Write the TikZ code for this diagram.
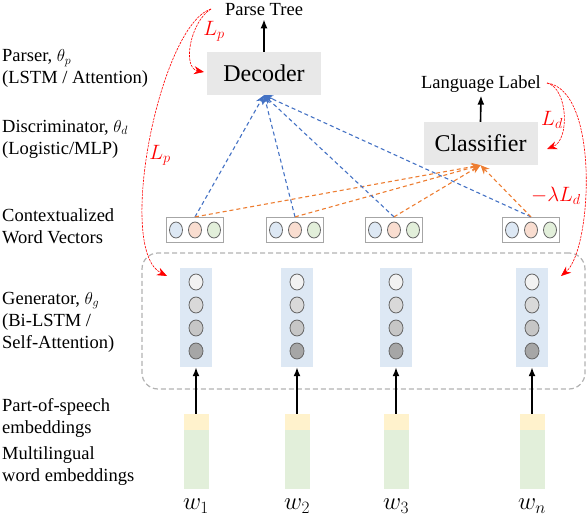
\documentclass[tikz,border=0pt]{standalone}
\usepackage{fontspec}
\setmainfont{Liberation Serif}
\usetikzlibrary{arrows.meta}

\definecolor{attblue}{HTML}{4472C4}
\definecolor{advorange}{HTML}{ED7D31}
\definecolor{cellblue}{HTML}{DDE8F4}
\definecolor{cellred}{HTML}{F9DDD0}
\definecolor{cellgreen}{HTML}{E2EFDA}
\definecolor{posyellow}{HTML}{FFF2CC}
\definecolor{embgreen}{HTML}{E2EFDA}

\tikzset{
    txt/.style={font=\fontsize{18.5}{22}\selectfont, inner sep=0pt},
    side/.style={txt, anchor=west, align=left},
    block/.style={fill=gray!18, minimum width=114pt, minimum height=43pt, font=\rmfamily\fontsize{24}{28}\selectfont},
    vecbox/.style={draw=gray!70, line width=1.2pt, fill=white, minimum width=57pt, minimum height=25pt},
    genbar/.style={fill=cellblue, minimum width=32pt, minimum height=99pt, inner sep=0pt},
    cell/.style={draw=gray!120, line width=0.8pt},
    up/.style={line width=1.6pt, -{Latex[length=9pt,width=7pt]}},
    todec/.style={attblue, line width=1.1pt, dash pattern=on 4pt off 3pt, -{Stealth[length=9pt,width=8pt]}},
    tocls/.style={advorange, line width=1.1pt, dash pattern=on 4pt off 3pt, -{Stealth[length=9pt,width=8pt]}},
    grad/.style={red, line width=0.6pt, dash pattern=on 2.5pt off 1pt, -{Stealth[length=10pt,width=8pt]}},
    loss/.style={red, font=\fontsize{21}{24}\selectfont}
}

\begin{document}
\begin{tikzpicture}[x=1pt,y=-1pt]
        \useasboundingbox (0,0) rectangle (588,518);
        % left column labels
        \node [side] (lparser) at (2,68.5) {Parser, $\theta_p$\\(LSTM / Attention)};
        \node [side] (ldisc) at (2,139) {Discriminator, $\theta_d$\\(Logistic/MLP)};
        \node [side] (lctx) at (2,226) {Contextualized\\Word Vectors};
        \node [side] (lgen) at (2,322) {Generator, $\theta_g$\\(Bi-LSTM /\\Self-Attention)};
        \node [side] (lpos) at (2,417.5) {Part-of-speech\\embeddings};
        \node [side] (lemb) at (2,466) {Multilingual\\word embeddings};
        % parser and classifier
        \node [block] (dec) at (264,73.5) {Decoder};
        \node [block] (cls) at (480.5,143.5) {Classifier};
        \node [txt] (tree) at (264,10) {Parse Tree};
        \node [txt] (lang) at (481,84) {Language Label};
        \draw [up] (dec.north) -- ([yshift=-3pt]tree.south);
        \draw [up] (cls.north) -- ([yshift=-3pt]lang.south);
        % generator frame
        \node [draw=gray!60, line width=1.2pt, dash pattern=on 5pt off 3pt, rounded corners=16pt,
               minimum width=443pt, minimum height=136pt] (gen) at (363.5,321) {};
        % word columns
        \foreach \x/\n/\v in {196/1/195, 297/2/295, 396/3/394, 532/n/531} {
            \node [vecbox] (v\n) at (\v,230) {};
            \filldraw [cell, fill=cellblue] (\v-19,230) ellipse (6.5 and 8);
            \filldraw [cell, fill=cellred] (\v,230) ellipse (6.5 and 8);
            \filldraw [cell, fill=cellgreen] (\v+19,230) ellipse (6.5 and 8);
            \node [genbar] (g\n) at (\x,317.5) {};
            \foreach \y/\c in {282/gray!10, 305/gray!30, 328/gray!45, 351/gray!70}
                \filldraw [cell, fill=\c] (\x,\y) ellipse (7 and 8);
            \node [fill=posyellow, minimum width=25pt, minimum height=16pt, inner sep=0pt] (p\n) at (\x,422) {};
            \node [fill=embgreen, minimum width=25pt, minimum height=59pt, inner sep=0pt, anchor=north] (e\n) at (p\n.south) {};
            \node [font=\fontsize{25}{28}\selectfont] (w\n) at (\x,506) {$w_{\n}$};
            \draw [up] (p\n.north) -- (g\n.south);
        }
        % attention to decoder and classifier
        \foreach \n in {1,2,3,n} {
            \draw [todec] (v\n.north) -- (dec.south);
            \draw [tocls] (v\n.north) -- (cls.south);
        }
        % gradients
        \coordinate (lpstart) at (211,9);
        \coordinate (ldstart) at (547,83);
        \coordinate (dectip) at (204,72);
        \coordinate (clstip) at (547,149);
        \coordinate (gentipl) at (167,276);
        \coordinate (gentipr) at (561,276);
        \draw [grad] (lpstart) .. controls (190,22) and (182,68) .. (dectip);
        \draw [grad] (lpstart) .. controls (160,25) and (115,250) .. (gentipl);
        \draw [grad] (ldstart) .. controls (568,88) and (570,140) .. (clstip);
        \draw [grad] (ldstart) .. controls (600,90) and (592,250) .. (gentipr);
        \node [loss] (lp1) at (214,31) {$L_p$};
        \node [loss] (lp2) at (160,155) {$L_p$};
        \node [loss] (ld1) at (552,120) {$L_d$};
        \node [loss] (ld2) at (556,196) {$-\lambda L_d$};
    \end{tikzpicture}
\end{document}
